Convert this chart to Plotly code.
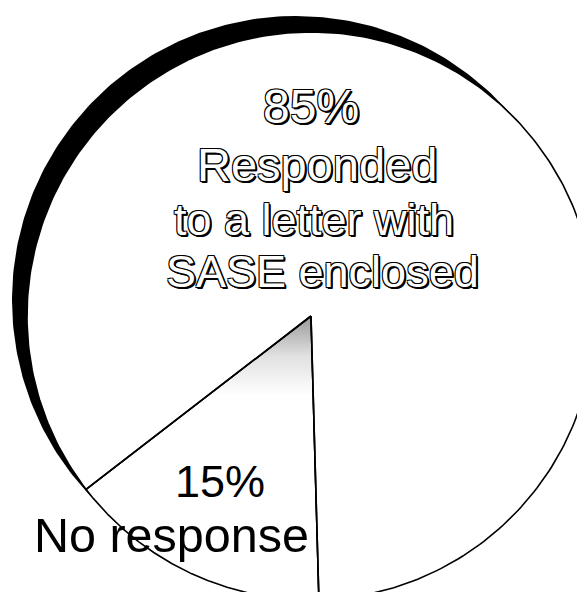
import numpy as np
import plotly.graph_objects as go

# Pie data (slice order: clockwise from the start angle)
labels = ["No response", "Responded to a letter with SASE enclosed"]
values = [15, 85]
pct_text = ["15%", "85%"]
label_lines = [
    ["No response"],
    ["Responded", "to a letter with", "SASE enclosed"],
]

# Geometry in page pixels (the pie is bigger than the page and gets clipped)
PAGE_W, PAGE_H = 585, 600
BODY = 8                       # default body margin of the html page
W, H = PAGE_W - 2 * BODY, PAGE_H - 2 * BODY
cx, cy, r = 311, 316, 284
start_deg = 178.4              # clockwise from 12 o'clock
shadow_dx, shadow_dy = -15, -16


def arc(theta0, theta1, n=200, ox=0, oy=0, rad=r):
    t = np.radians(np.linspace(theta0, theta1, n))
    return cx + ox + rad * np.sin(t), cy + oy - rad * np.cos(t)


fig = go.Figure()

# drop shadow of the disc
sx, sy = arc(0, 360, 400, shadow_dx, shadow_dy)
fig.add_trace(go.Scatter(x=sx, y=sy, mode="lines", fill="toself",
                         fillcolor="black", line=dict(width=0, color="black"),
                         hoverinfo="skip", showlegend=False))

# slices
total = sum(values)
angle = start_deg
slice_spans = []
for lab, v in zip(labels, values):
    span = 360 * v / total
    ax_, ay_ = arc(angle, angle + span, 300)
    xs = np.concatenate([[cx], ax_, [cx]])
    ys = np.concatenate([[cy], ay_, [cy]])
    fig.add_trace(go.Scatter(x=xs, y=ys, mode="lines", fill="toself",
                             fillcolor="white", line=dict(width=1.6, color="black"),
                             name=lab, hoverinfo="name", showlegend=False))
    slice_spans.append((angle, angle + span))
    angle += span

# grey tone near the tip of the small slice (scan shading), fades downwards
a0, a1 = slice_spans[0]
depth = 80
p0 = arc(a0, a0, 2, rad=depth / abs(np.cos(np.radians(a0))))
p1 = arc(a1, a1, 2, rad=depth / abs(np.cos(np.radians(a1))))
fig.add_trace(go.Scatter(
    x=[cx, p0[0][0], p1[0][0], cx], y=[cy, p0[1][0], p1[1][0], cy],
    mode="lines", fill="toself", line=dict(width=0),
    fillgradient=dict(type="vertical", start=cy, stop=cy + depth,
                      colorscale=[[0, "rgba(0,0,0,0.4)"], [0.5, "rgba(0,0,0,0.12)"],
                                  [1, "rgba(0,0,0,0)"]]),
    hoverinfo="skip", showlegend=False))

# redraw the slice edges on top of the shading
for a in (a0, a1):
    ex, ey = arc(a, a, 2)
    fig.add_trace(go.Scatter(x=[cx, ex[0]], y=[cy, ey[0]], mode="lines",
                             line=dict(width=1.6, color="black"),
                             hoverinfo="skip", showlegend=False))

# labels
outline = ("-1px -1px 0 #000, 1px -1px 0 #000, -1px 1px 0 #000, 1px 1px 0 #000, "
           "2px 2px 0 #000, 2px 1px 0 #000, 1px 2px 0 #000")
big_pos = [(311, 106, 48), (317, 164, 47), (314, 219, 45), (322, 271, 45)]
big_text = [pct_text[1]] + label_lines[1]
for (x, y, s), txt in zip(big_pos, big_text):
    fig.add_annotation(x=x, y=y, text=txt, showarrow=False, xref="x", yref="y",
                       xanchor="center", yanchor="middle",
                       font=dict(family="Liberation Sans", size=s, color="white",
                                 shadow=outline))

small_pos = [(220, 481, 45), (171, 535, 48.5)]
small_text = [pct_text[0]] + label_lines[0]
for (x, y, s), txt in zip(small_pos, small_text):
    fig.add_annotation(x=x, y=y, text=txt, showarrow=False, xref="x", yref="y",
                       xanchor="center", yanchor="middle",
                       font=dict(family="Liberation Sans", size=s, color="black"))

# axes span page pixels BODY..PAGE-BODY so the drawing sits where it should
fig.update_xaxes(range=[BODY, PAGE_W - BODY], visible=False, showgrid=False, zeroline=False)
fig.update_yaxes(range=[PAGE_H - BODY, BODY], visible=False, showgrid=False, zeroline=False)
fig.update_layout(width=W, height=H, margin=dict(l=0, r=0, t=0, b=0),
                  plot_bgcolor="white", paper_bgcolor="white", showlegend=False)

fig.write_html("out.html")
